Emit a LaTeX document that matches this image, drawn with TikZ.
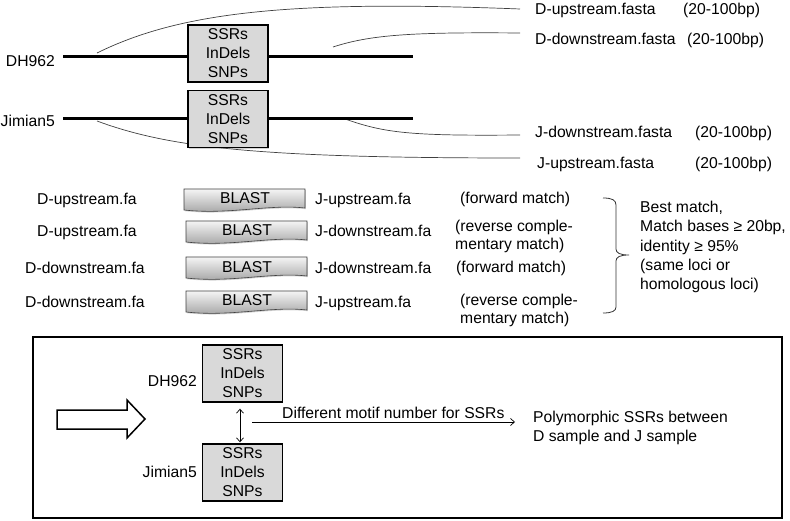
\documentclass[tikz,border=0pt]{standalone}
\usepackage{fontspec}
\setmainfont{Liberation Sans}
\usetikzlibrary{arrows.meta,shadows}
\begin{document}
\begin{tikzpicture}[x=1pt,y=-1pt,
  every node/.style={inner sep=0pt, font=\fontsize{15.7}{19}\selectfont},
  lab/.style={anchor=base west},
  labr/.style={anchor=base east},
  locus/.style={draw, line width=1.4pt, fill=black!15, minimum width=80pt, minimum height=57pt, align=center,
    drop shadow={shadow xshift=0.8pt, shadow yshift=-1.2pt, opacity=0.35}},
  chrom/.style={line width=3pt},
  flank/.style={line width=0.7pt, black!75},
  thinarrow/.style={line width=0.7pt, arrows={-Straight Barb[length=4pt,width=7pt]}},
  blastshape/.pic={\path[draw=black!75, line width=0.6pt, top color=black!4, bottom color=black!38,
      drop shadow={shadow xshift=0.8pt, shadow yshift=-1.2pt, opacity=0.35}]
      (0,0) -- (121,0) -- (121,19) .. controls (85,15) and (45,26) .. (0,21) -- cycle;}
]
\useasboundingbox (0,0) rectangle (790,521);

% ---------- top section ----------
\coordinate (dl) at (63,57);  \coordinate (dr) at (413,57);
\coordinate (jl) at (63,119); \coordinate (jr) at (413,119);

\node[lab] (fa1) at (535,15)  {D-upstream.fasta};
\node[lab] (bp1) at (683,15)  {(20-100bp)};
\node[lab] (fa2) at (535,45)  {D-downstream.fasta};
\node[lab] (bp2) at (687,45)  {(20-100bp)};
\node[lab] (fa3) at (535,138) {J-downstream.fasta};
\node[lab] (bp3) at (695,138) {(20-100bp)};
\node[lab] (fa4) at (537,169) {J-upstream.fasta};
\node[lab] (bp4) at (695,169) {(20-100bp)};

\coordinate (u1) at (97,53);   \coordinate (e1) at (520,9);
\coordinate (u2) at (333,47);  \coordinate (e2) at (520,33);
\coordinate (u3) at (345,119); \coordinate (e3) at (520,135);
\coordinate (u4) at (97,121);  \coordinate (e4) at (520,158);
\draw[flank] (u1) .. controls (180,12) and (290,0) .. (e1);
\draw[flank] (u2) .. controls (370,35) and (410,32) .. (e2);
\draw[flank] (u3) .. controls (385,133) and (410,136) .. (e3);
\draw[flank] (u4) .. controls (170,148) and (260,158) .. (e4);

\draw[chrom] (dl) -- (dr);
\draw[chrom] (jl) -- (jr);
\node[labr] (dh) at (55,67)  {DH962};
\node[labr] (jm) at (55,127) {Jimian5};
\node[locus] (b1) at (228,53.5) {SSRs\\InDels\\SNPs};
\node[locus] (b2) at (228,119)  {SSRs\\InDels\\SNPs};

% ---------- BLAST section ----------
\pic at (184,189) {blastshape};
\pic at (186,221) {blastshape};
\pic at (186,257) {blastshape};
\pic at (186,291) {blastshape};
\node[anchor=base] (bl1) at (245,204) {BLAST};
\node[anchor=base] (bl2) at (247,236) {BLAST};
\node[anchor=base] (bl3) at (247,273) {BLAST};
\node[anchor=base] (bl4) at (247,306) {BLAST};

\node[lab] (q1) at (37,205) {D-upstream.fa};
\node[lab] (q2) at (37,237) {D-upstream.fa};
\node[lab] (q3) at (25,274) {D-downstream.fa};
\node[lab] (q4) at (25,308) {D-downstream.fa};
\node[lab] (s1) at (315,205) {J-upstream.fa};
\node[lab] (s2) at (315,237) {J-downstream.fa};
\node[lab] (s3) at (315,274) {J-downstream.fa};
\node[lab] (s4) at (315,308) {J-upstream.fa};

\node[lab] (m1)  at (460,204) {(forward match)};
\node[lab] (m2a) at (455,232) {(reverse comple-};
\node[lab] (m2b) at (455,250) {mentary match)};
\node[lab] (m3)  at (456,273) {(forward match)};
\node[lab] (m4a) at (460,306) {(reverse comple-};
\node[lab] (m4b) at (460,324) {mentary match)};

\draw[line width=0.8pt, black!80]
  (603,198) .. controls (612,198) and (616,200) .. (616,205) -- (616,249)
  .. controls (616,253) and (620,255) .. (629,255)
  .. controls (620,255) and (616,257) .. (616,261) -- (616,307)
  .. controls (616,311) and (612,313) .. (603,313);

\node[lab] (r1) at (640,213) {Best match,};
\node[lab] (r2) at (640,232) {Match bases ≥ 20bp,};
\node[lab] (r3) at (640,252) {identity ≥ 95\%};
\node[lab] (r4) at (640,271) {(same loci or};
\node[lab] (r5) at (640,290) {homologous loci)};

% ---------- bottom section ----------
\draw[line width=1.8pt] (33,337) rectangle (782,518);

\draw[line width=1.5pt, line join=miter]
  (57,410) -- (127,410) -- (127,400) -- (145,419) -- (127,438) -- (127,429) -- (57,429) -- cycle;

\node[locus] (d2) at (242.5,373.5) {SSRs\\InDels\\SNPs};
\node[locus] (j2) at (242.5,472.5) {SSRs\\InDels\\SNPs};
\node[labr] (dh2) at (197,386) {DH962};
\node[labr] (jm2) at (197,477) {Jimian5};

\draw[line width=0.7pt, arrows={Straight Barb[length=4pt,width=7pt]-Straight Barb[length=4pt,width=7pt]}]
  ([xshift=-2.5pt,yshift=-6pt]d2.south) -- ([xshift=-2.5pt,yshift=1pt]j2.north);

\coordinate (hs) at (252,422);
\coordinate (he) at (515,422);
\draw[thinarrow] (hs) -- (he);
\node[lab] (dm) at (282,418) {Different motif number for SSRs};
\node[lab] (p1) at (533,422) {Polymorphic SSRs between};
\node[lab] (p2) at (533,441) {D sample and J sample};
\end{tikzpicture}
\end{document}
